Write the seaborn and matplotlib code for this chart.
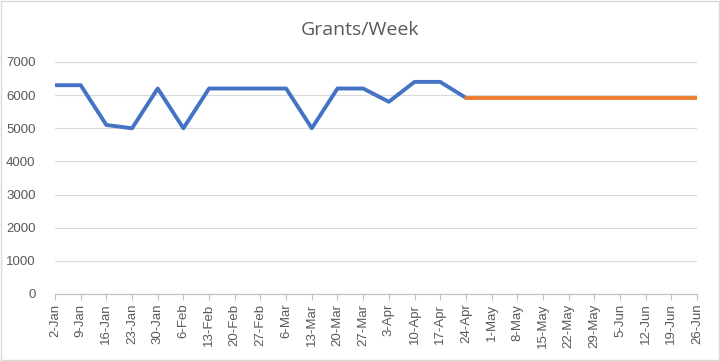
import matplotlib
matplotlib.use("Agg")
import matplotlib.pyplot as plt
import seaborn as sns
import pandas as pd
from matplotlib.patches import Rectangle

# Dataset
weeks = ['2-Jan', '9-Jan', '16-Jan', '23-Jan', '30-Jan', '6-Feb', '13-Feb', '20-Feb',
         '27-Feb', '6-Mar', '13-Mar', '20-Mar', '27-Mar', '3-Apr', '10-Apr', '17-Apr',
         '24-Apr', '1-May', '8-May', '15-May', '22-May', '29-May', '5-Jun', '12-Jun',
         '19-Jun', '26-Jun']
actual = [6300, 6300, 5100, 5000, 6200, 5000, 6200, 6200, 6200, 6200, 5000, 6200,
          6200, 5800, 6400, 6400, 5920]
projected = [5920, 5920, 5920, 5920, 5920, 5920, 5920, 5920, 5920, 5920]
y_ticks = [0, 1000, 2000, 3000, 4000, 5000, 6000, 7000]

df_actual = pd.DataFrame({'pos': range(len(actual)), 'grants': actual})
start = len(actual) - 1
df_proj = pd.DataFrame({'pos': range(start, start + len(projected)), 'grants': projected})

sns.set_style("white")
plt.rcParams['font.family'] = ['Liberation Sans', 'DejaVu Sans']

fig = plt.figure(figsize=(7.2, 3.61), dpi=100)
ax = fig.add_axes([55 / 720, 1 - 294 / 361, 642 / 720, 232 / 361])

sns.lineplot(data=df_actual, x='pos', y='grants', color='#4472C4', linewidth=2.8, ax=ax)
sns.lineplot(data=df_proj, x='pos', y='grants', color='#ED7D31', linewidth=2.8, ax=ax)

ax.set_xlim(0, len(weeks) - 1)
ax.set_ylim(0, 7000)
ax.set_xticks(range(len(weeks)))
ax.set_xticklabels(weeks, rotation=90, fontsize=9.5, color='#595959')
ax.set_yticks(y_ticks)
ax.set_yticklabels([str(v) for v in y_ticks], fontsize=9.5, color='#595959')
ax.set_xlabel('')
ax.set_ylabel('')

ax.grid(axis='y', color='#d9d9d9', linewidth=0.8)
ax.set_axisbelow(True)
for side in ['top', 'right', 'left']:
    ax.spines[side].set_visible(False)
ax.spines['bottom'].set_color('#bfbfbf')
ax.spines['bottom'].set_linewidth(0.8)
ax.tick_params(axis='x', length=4, color='#bfbfbf', pad=3, bottom=True)
ax.tick_params(axis='y', length=0, pad=14)

fig.text(0.5, 1 - 30 / 361, 'Grants/Week', ha='center', va='center',
         fontsize=14, color='#595959', family=['Open Sans', 'DejaVu Sans'])

fig.patches.append(Rectangle((0.001, 0.002), 0.997, 0.995, transform=fig.transFigure,
                             fill=False, edgecolor='#d9d9d9', linewidth=1))

plt.savefig("out.png", dpi=100)
